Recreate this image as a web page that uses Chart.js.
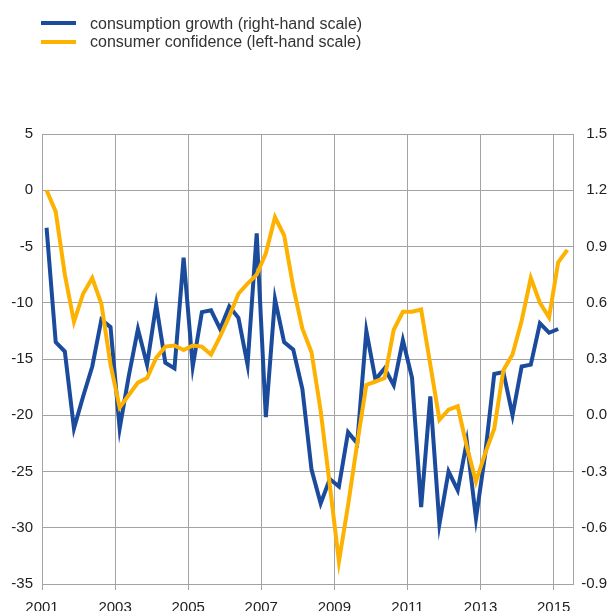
<!DOCTYPE html>
<html>
<head>
<meta charset="utf-8">
<script src="https://cdn.jsdelivr.net/npm/chart.js@4/dist/chart.umd.min.js"></script>
<style>
  html, body { margin: 0; padding: 0; background: #fff; overflow: hidden; }
  #wrap { position: relative; width: 610px; height: 620px; }
  #legend { position: absolute; left: 0; top: 0; width: 610px; height: 60px; font-family: "Liberation Sans", Arial, sans-serif; font-size: 16px; color: #333; }
  .swatch { position: absolute; width: 35px; height: 4px; }
  .txt { position: absolute; line-height: 16px; white-space: nowrap; }
</style>
</head>
<body>
<div id="wrap">
  <canvas id="c" width="610" height="620"></canvas>
  <div id="legend"></div>
</div>
<script>
// ---- data (quarterly, 2001Q1 ...) ----
const startYear = 2001;
const seriesNames = ["consumption growth (right-hand scale)", "consumer confidence (left-hand scale)"];
const seriesColors = ["#1b4b9d", "#fdb100"];

// consumer confidence, left-hand scale, 2001Q1 - 2015Q2
const consumerConfidence = [
  0.0, -1.9, -7.5, -11.7, -9.2, -7.8, -10.1, -15.5,
  -19.3, -18.2, -17.1, -16.7, -14.9, -13.9, -13.8, -14.2,
  -13.8, -13.9, -14.6, -13.0, -11.2, -9.2, -8.3, -7.5,
  -5.6, -2.4, -4.0, -8.6, -12.3, -14.4, -19.6, -26.2,
  -33.0, -28.0, -22.5, -17.3, -17.0, -16.7, -12.4, -10.8,
  -10.8, -10.6, -15.5, -20.4, -19.5, -19.2, -22.8, -25.9,
  -23.4, -21.2, -16.0, -14.6, -11.6, -7.8, -10.0, -11.3,
  -6.4, -5.3
];

// consumption growth, right-hand scale, 2001Q1 - 2015Q1
const consumptionGrowth = [
  1.00, 0.39, 0.34, -0.07, 0.10, 0.26, 0.51, 0.47,
  -0.07, 0.21, 0.46, 0.27, 0.59, 0.28, 0.25, 0.84,
  0.26, 0.55, 0.56, 0.46, 0.58, 0.52, 0.27, 0.97,
  -0.01, 0.62, 0.39, 0.35, 0.14, -0.29, -0.47, -0.34,
  -0.38, -0.09, -0.15, 0.45, 0.19, 0.25, 0.16, 0.40,
  0.20, -0.49, 0.10, -0.58, -0.30, -0.40, -0.14, -0.55,
  -0.21, 0.22, 0.23, 0.00, 0.26, 0.27, 0.49, 0.44,
  0.46
];

const xTickLabels = [2001, 2003, 2005, 2007, 2009, 2011, 2013, 2015];
const leftTicks = [5, 0, -5, -10, -15, -20, -25, -30, -35];
const rightTicks = [1.5, 1.2, 0.9, 0.6, 0.3, 0.0, -0.3, -0.6, -0.9];

// quarter positions (mid-quarter) on a continuous year axis
function quarterPos(i) { return startYear + (i + 0.5) / 4; }
function toPoints(arr) { return arr.map((v, i) => ({ x: quarterPos(i), y: v })); }

// ---- legend (HTML) ----
const legend = document.getElementById('legend');
const legendRows = [{ top: 21, textTop: 15.5 }, { top: 39.5, textTop: 34.3 }];
seriesNames.forEach((name, i) => {
  const sw = document.createElement('div');
  sw.className = 'swatch';
  sw.style.left = '41px';
  sw.style.top = legendRows[i].top + 'px';
  sw.style.background = seriesColors[i];
  legend.appendChild(sw);
  const t = document.createElement('div');
  t.className = 'txt';
  t.style.left = '90px';
  t.style.top = legendRows[i].textTop + 'px';
  t.textContent = name;
  legend.appendChild(t);
});

const gridColor = '#a3a3a3';
const tickFont = { family: '"Liberation Sans", Arial, sans-serif', size: 15 };

new Chart(document.getElementById('c'), {
  type: 'line',
  data: {
    datasets: [
      {
        label: seriesNames[1],
        data: toPoints(consumerConfidence),
        yAxisID: 'yL',
        borderColor: seriesColors[1],
        borderWidth: 4,
        pointRadius: 0,
        tension: 0,
        fill: false,
        order: 0
      },
      {
        label: seriesNames[0],
        data: toPoints(consumptionGrowth),
        yAxisID: 'yR',
        borderColor: seriesColors[0],
        borderWidth: 4,
        pointRadius: 0,
        tension: 0,
        fill: false,
        order: 1
      }
    ]
  },
  options: {
    responsive: false,
    animation: false,
    events: [],
    layout: { padding: { top: 134, left: 0, right: 3, bottom: 0 } },
    plugins: { legend: { display: false }, tooltip: { enabled: false } },
    scales: {
      x: {
        type: 'linear',
        min: 2001,
        max: 2015.53,
        afterBuildTicks: s => { s.ticks = xTickLabels.map(v => ({ value: v })); },
        afterFit: s => { s.height = 36; },
        ticks: { callback: v => String(v), font: tickFont, color: '#222', padding: 9, maxRotation: 0, autoSkip: false },
        grid: { color: gridColor, lineWidth: 1, drawTicks: true, tickLength: 6 },
        border: { display: false }
      },
      yL: {
        type: 'linear',
        position: 'left',
        min: -35,
        max: 5,
        afterBuildTicks: s => { s.ticks = leftTicks.map(v => ({ value: v })); },
        afterFit: s => { s.width = 42; },
        ticks: { callback: v => String(v), font: tickFont, color: '#222', padding: 9, autoSkip: false },
        grid: { color: gridColor, lineWidth: 1, drawTicks: false },
        border: { display: true, color: gridColor, width: 1 }
      },
      yR: {
        type: 'linear',
        position: 'right',
        min: -0.9,
        max: 1.5,
        afterBuildTicks: s => { s.ticks = rightTicks.map(v => ({ value: v })); },
        afterFit: s => { s.width = 34; },
        ticks: { callback: v => v.toFixed(1), font: tickFont, color: '#222', crossAlign: 'far', autoSkip: false },
        grid: { display: false, drawTicks: false },
        border: { display: true, color: gridColor, width: 1 }
      }
    }
  }
});
</script>
</body>
</html>
